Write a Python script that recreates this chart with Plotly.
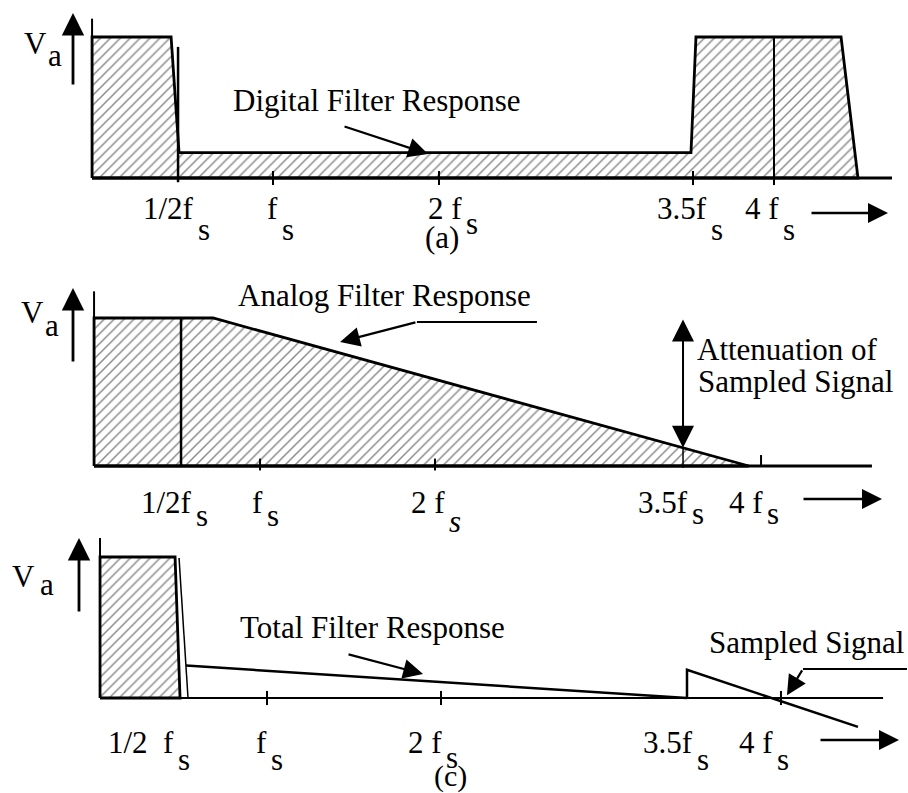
import plotly.graph_objects as go

W, H = 908, 793
FONT = "Liberation Serif"
FS = 31

# ---------------- data: frequency in units of fs, amplitude relative to passband (=1) ----------------
# panel (a) : digital filter response
a_resp_f = [-0.090, -0.090, 0.386, 0.434, 3.518, 3.548, 4.422, 4.524]
a_resp_v = [0.0, 1.0, 1.0, 0.18, 0.18, 1.0, 1.0, 0.0]
a_half_f, a_half_v = [0.428, 0.428], [-0.03, 0.93]
a_four_f, a_four_v = [4.018, 4.018], [-0.05, 1.0]
a_axis_f, a_axis_v = [-0.090, -0.090], [0.0, 1.13]
a_base_f = [-0.090, 4.729]
a_tick_f = [1.0, 2.0, 3.53]
a_note_tail, a_note_tip = (1.422, 0.369), (1.934, 0.17)

# panel (b) : analog filter response
b_resp_f = [-0.078, -0.078, 0.639, 3.867]
b_resp_v = [0.0, 1.0, 1.0, 0.0]
b_half_f, b_half_v = [0.446, 0.446], [0.0, 1.0]
b_axis_f, b_axis_v = [-0.078, -0.078], [0.0, 1.18]
b_base_f = [-0.078, 4.608]
b_tick_f = [0.922, 1.976]
b_four_f, b_four_v = [3.94, 3.94], [0.0, 0.074]
b_att_f, b_att_v = 3.47, [-0.014, 0.123, 1.0]
b_lead_f, b_lead_v = [2.590, 1.867], [0.973, 0.973]
b_note_tip = (1.404, 0.838)

# panel (c) : total filter response
c_resp_f = [-0.042, -0.042, 0.410, 0.440]
c_resp_v = [0.0, 1.0, 1.0, 0.0]
c_edge_f, c_edge_v = [0.434, 0.488], [0.993, 0.0]
c_tot_f, c_tot_v = [0.476, 3.494], [0.23, 0.0]
c_sig_f, c_sig_v = [3.494, 3.494, 4.524], [0.0, 0.20, -0.205]
c_axis_f, c_axis_v = [-0.042, -0.042], [0.0, 1.135]
c_base_f = [-0.042, 4.675]
c_tick_f = [0.964, 2.012, 4.060]
c_note_tail, c_note_tip = (1.446, 0.312), (1.904, 0.17)
c_lead_f, c_lead_v = [4.819, 4.193], [0.206, 0.206]
c_sig_tip = (4.096, 0.02)

# tick labels
tick_main = {
    'a': ["1/2f", "f", "2\u00a0f", "3.5f", "4\u00a0f"],
    'b': ["1/2f", "f", "2\u00a0f", "3.5f", "4\u00a0f"],
    'c': ["1/2\u00a0\u00a0f", "f", "2\u00a0f", "3.5f", "4\u00a0f"],
}
tick_sub = {
    'a': ["s", "s", "s", "s", "s"],
    'b': ["s", "s", "<i>s</i>", "s", "s"],
    'c': ["s", "s", "s", "s", "s"],
}
titles = {'a': "Digital Filter Response", 'b': "Analog Filter Response", 'c': "Total Filter Response"}
captions = {'a': "(a)", 'b': "(b)", 'c': "(c)"}

# ---------------- layout geometry (pixels) ----------------
XR = {'a': 'x', 'b': 'x2', 'c': 'x3'}
YR = {'a': 'y', 'b': 'y2', 'c': 'y3'}
PAN = {'a': dict(base=178, unit=141, top=0, bottom=265),
       'b': dict(base=466, unit=148, top=265, bottom=530),
       'c': dict(base=698, unit=141, top=530, bottom=793)}
F0, PPF = 107.0, 166.0


def fx(px):
    return (px - F0) / PPF


def fy(p, py):
    return (PAN[p]['base'] - py) / PAN[p]['unit']


fig = go.Figure()
ann = []


def line(p, xs, ys, w=2.5):
    fig.add_trace(go.Scatter(x=xs, y=ys, mode='lines', line=dict(color='black', width=w),
                             xaxis=XR[p], yaxis=YR[p], hoverinfo='skip', showlegend=False))


def hatched(p, xs, ys):
    fig.add_trace(go.Scatter(x=list(xs) + [xs[0]], y=list(ys) + [ys[0]], mode='lines', fill='toself',
                             fillcolor='white',
                             fillpattern=dict(shape='/', size=7, solidity=0.22, fgcolor='#1a1a1a', bgcolor='white'),
                             line=dict(color='black', width=2.8),
                             xaxis=XR[p], yaxis=YR[p], hoverinfo='skip', showlegend=False))


def text(p, x, y, s, xanchor='center', size=FS, yanchor='middle'):
    ann.append(dict(xref=XR[p], yref=YR[p], x=x, y=y, text=s, showarrow=False, xanchor=xanchor,
                    yanchor=yanchor, borderpad=0, font=dict(family=FONT, size=size, color='black')))


def arrow(p, tip, tail, both=False, w=2.5, size=1.6):
    d = dict(xref=XR[p], yref=YR[p], axref=XR[p], ayref=YR[p], x=tip[0], y=tip[1], ax=tail[0], ay=tail[1],
             text='', showarrow=True, arrowhead=2, arrowsize=size, arrowwidth=w, arrowcolor='black', standoff=0)
    if both:
        d.update(arrowside='end+start', startarrowhead=2, startarrowsize=size, startstandoff=0)
    ann.append(d)


def ticks(p, fs, lo=-0.05, hi=0.05, w=2):
    for f in fs:
        line(p, [f, f], [lo, hi], w)


# ---------------- panel (a) ----------------
hatched('a', a_resp_f, a_resp_v)
line('a', a_base_f, [0, 0], 2.8)
line('a', a_axis_f, a_axis_v, 2)
line('a', a_half_f, a_half_v, 2.5)
line('a', a_four_f, a_four_v, 2)
ticks('a', a_tick_f)
arrow('a', a_note_tip, a_note_tail, w=2.2, size=1.8)
text('a', fx(377), fy('a', 100), titles['a'])

# ---------------- panel (b) ----------------
hatched('b', b_resp_f, b_resp_v)
line('b', b_base_f, [0, 0], 2.8)
line('b', b_axis_f, b_axis_v, 2)
line('b', b_half_f, b_half_v, 2.5)
ticks('b', b_tick_f, -0.03, 0.05)
line('b', b_four_f, b_four_v, 2)
line('b', [b_att_f, b_att_f], b_att_v[:2], 1.5)
arrow('b', (b_att_f, b_att_v[1]), (b_att_f, b_att_v[2]), both=True, w=2, size=2.2)
line('b', b_lead_f, b_lead_v, 2)
arrow('b', b_note_tip, (b_lead_f[1], b_lead_v[1]), w=2.2, size=1.8)
text('b', fx(384), fy('b', 295), titles['b'])
text('b', fx(696), fy('b', 349), "Attenuation of", xanchor='left')
text('b', fx(697), fy('b', 381), "Sampled Signal", xanchor='left')

# ---------------- panel (c) ----------------
hatched('c', c_resp_f, c_resp_v)
line('c', c_base_f, [0, 0], 2.2)
line('c', c_axis_f, c_axis_v, 2)
line('c', c_edge_f, c_edge_v, 1.5)
line('c', c_tot_f, c_tot_v, 2.5)
line('c', c_sig_f, c_sig_v, 2.5)
ticks('c', c_tick_f)
arrow('c', c_note_tip, c_note_tail, w=2.2, size=1.8)
line('c', c_lead_f, c_lead_v, 2)
arrow('c', c_sig_tip, (c_lead_f[1], c_lead_v[1]), w=2.2, size=1.8)
text('c', fx(372), fy('c', 627), titles['c'])
text('c', fx(806), fy('c', 642), "Sampled Signal")

# ---------------- V_a labels, axis arrows, tick labels, captions ----------------
va_pos = {'a': ((35, 43), (55, 55)), 'b': ((32, 312), (52, 325)), 'c': ((23, 576), (47, 584))}
va_arrow = {'a': (73, 86, 13), 'b': (73, 363, 288), 'c': (79, 613, 538)}
dir_arrow = {'a': (810, 888, 213), 'b': (802, 882, 499), 'c': (819, 899, 740)}
lab_split = {'a': [196, 280, 464, 709, 781], 'b': [194, 265, 447, 690, 765], 'c': [176, 269, 444, 695, 775]}
lab_main_y = {'a': 208, 'b': 502, 'c': 742}
lab_sub_y = {'a': [229, 229, 223, 229, 229], 'b': [515, 515, 521, 513, 513], 'c': [759, 759, 757, 759, 759]}
cap_pos = {'a': (442, 237), 'b': (429, 550), 'c': (450, 776)}

for p in 'abc':
    (vx, vy), (sx, sy) = va_pos[p]
    text(p, fx(vx), fy(p, vy), "V")
    text(p, fx(sx), fy(p, sy), "a")
    ax_, y0, y1 = va_arrow[p]
    arrow(p, (fx(ax_), fy(p, y1)), (fx(ax_), fy(p, y0)), w=2.8, size=1.6)
    x0, x1, yy = dir_arrow[p]
    arrow(p, (fx(x1), fy(p, yy)), (fx(x0), fy(p, yy)), w=2.5, size=1.6)
    for i, (m, s) in enumerate(zip(tick_main[p], tick_sub[p])):
        b = lab_split[p][i]
        text(p, fx(b - 1), fy(p, lab_main_y[p]), m, xanchor='right')
        text(p, fx(b + 1), fy(p, lab_sub_y[p][i]), s, xanchor='left')
    cx, cy = cap_pos[p]
    text(p, fx(cx), fy(p, cy), captions[p], size=30 if p == 'c' else FS)

layout = dict(width=W, height=H, margin=dict(l=0, r=0, t=0, b=0), paper_bgcolor='white',
              plot_bgcolor='rgba(0,0,0,0)', showlegend=False, annotations=ann)
for i, p in enumerate('abc'):
    sfx = '' if i == 0 else str(i + 1)
    d = PAN[p]
    layout['xaxis' + sfx] = dict(domain=[0, 1], range=[fx(0), fx(W)], visible=False,
                                 anchor='y' + sfx, fixedrange=True)
    layout['yaxis' + sfx] = dict(domain=[1 - d['bottom'] / H, 1 - d['top'] / H],
                                 range=[fy(p, d['bottom']), fy(p, d['top'])], visible=False,
                                 anchor='x' + sfx, fixedrange=True)
fig.update_layout(**layout)
fig.write_html("out.html")
